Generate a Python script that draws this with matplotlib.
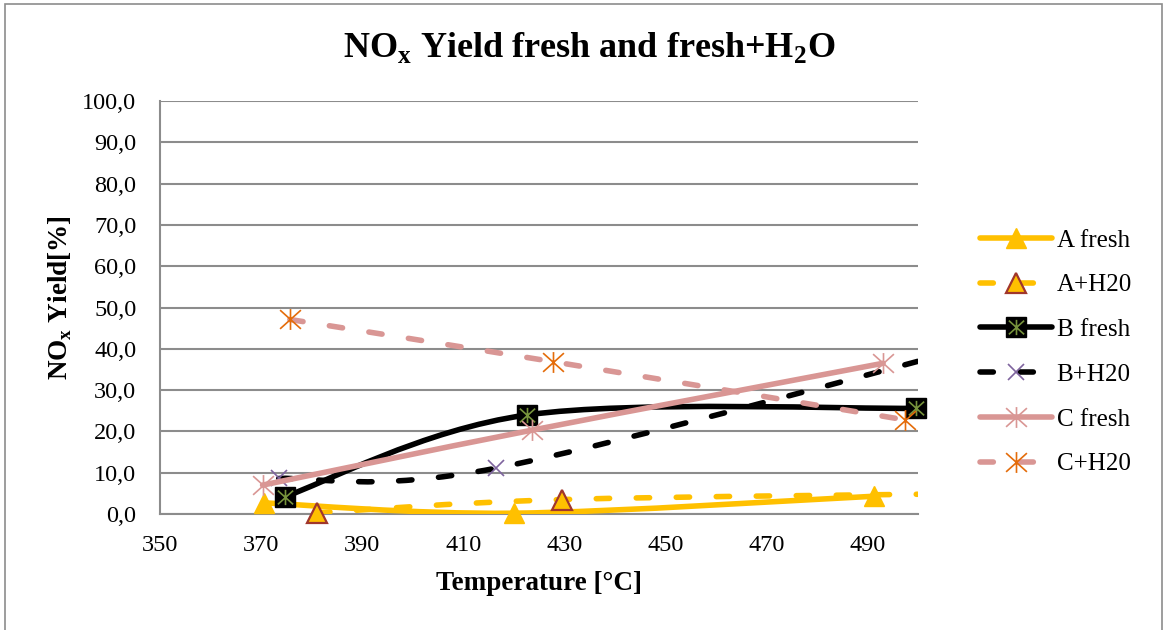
import numpy as np
import matplotlib
matplotlib.use("Agg")
import matplotlib.pyplot as plt
from matplotlib.path import Path
from matplotlib.patches import PathPatch, Rectangle
from matplotlib.lines import Line2D
from matplotlib.legend_handler import HandlerTuple
from matplotlib.ticker import FuncFormatter, MultipleLocator

plt.rcParams['font.family'] = ['Liberation Serif', 'DejaVu Serif']
plt.rcParams['mathtext.fontset'] = 'custom'
plt.rcParams['mathtext.rm'] = 'Liberation Serif'
plt.rcParams['mathtext.bf'] = 'Liberation Serif:bold'

# data (temperature in °C, NOx yield in %)
a_fresh_x = [370.5, 420.0, 491.2]
a_fresh_y = [2.7, 0.2, 4.3]
a_h2o_x = [381.0, 429.5, 515.0]
a_h2o_y = [0.3, 3.5, 5.0]
b_fresh_x = [374.7, 422.7, 499.7]
b_fresh_y = [4.2, 24.0, 25.6]
b_h2o_x = [373.5, 416.5, 520.0]
b_h2o_y = [8.6, 11.1, 43.5]
c_fresh_x = [370.3, 423.6, 493.1]
c_fresh_y = [7.0, 20.3, 36.5]
c_h2o_x = [375.7, 427.7, 497.4]
c_h2o_y = [47.1, 36.9, 22.8]

labels = ['A fresh', 'A+H20', 'B fresh', 'B+H20', 'C fresh', 'C+H20']

XMIN, XMAX = 350, 500

YELLOW = '#FFC000'
PINK = '#D99694'
ORANGE = '#E46C0A'
PURPLE = '#7E649E'
GREEN = '#77933C'
BROWN = '#A0362C'
GRID = '#8C8C8C'

# asterisk-like marker (vertical bar plus an X), as Excel's "star"
STAR = Path([(0, -0.5), (0, 0.5), (-0.5, -0.45), (0.5, 0.45), (-0.5, 0.45), (0.5, -0.45)],
            [Path.MOVETO, Path.LINETO, Path.MOVETO, Path.LINETO, Path.MOVETO, Path.LINETO])


def smooth_path(xs, ys):
    # Excel style smoothed line: cubic bezier through the points
    pts = np.column_stack([xs, ys]).astype(float)
    n = len(pts)
    verts = [pts[0]]
    codes = [Path.MOVETO]
    for i in range(n - 1):
        p0 = pts[max(i - 1, 0)]
        p1 = pts[i]
        p2 = pts[i + 1]
        p3 = pts[min(i + 2, n - 1)]
        verts += [p1 + (p2 - p0) / 6, p2 - (p3 - p1) / 6, p2]
        codes += [Path.CURVE4] * 3
    return Path(verts, codes)


LW = 4.0
DASH = (0, (2.4, 4.8))

fig = plt.figure(figsize=(11.73, 6.30), dpi=100)
ax = fig.add_axes([0.1364, 0.1841, 0.6462, 0.6556])

series = [
    (a_fresh_x, a_fresh_y, YELLOW, '-', dict(marker='^', ms=14, mfc=YELLOW, mec=YELLOW, mew=1)),
    (a_h2o_x, a_h2o_y, YELLOW, DASH, dict(marker='^', ms=14, mfc=YELLOW, mec=BROWN, mew=1.6)),
    (b_fresh_x, b_fresh_y, 'black', '-', dict(marker='s', ms=14, mfc='black', mec='black', mew=1)),
    (b_h2o_x, b_h2o_y, 'black', DASH, dict(marker='x', ms=12, mfc='none', mec=PURPLE, mew=1.2)),
    (c_fresh_x, c_fresh_y, PINK, '-', dict(marker=STAR, ms=15, mfc='none', mec=PINK, mew=1.2)),
    (c_h2o_x, c_h2o_y, PINK, DASH, dict(marker=STAR, ms=15, mfc='none', mec=ORANGE, mew=1.2)),
]

handles = []
for i, (xs, ys, col, ls, mk) in enumerate(series):
    z = 3 + i * 2
    patch = PathPatch(smooth_path(xs, ys), fill=False, edgecolor=col, lw=LW,
                      linestyle=ls, capstyle='round', joinstyle='round', zorder=z)
    ax.add_patch(patch)
    xs_a = np.array(xs)
    ys_a = np.array(ys)
    keep = xs_a <= XMAX
    ax.plot(xs_a[keep], ys_a[keep], ls='none', clip_on=False, zorder=z + 1, **mk)
    h = Line2D([], [], color=col, lw=LW, ls=ls, dash_capstyle='round',
               solid_capstyle='round', **mk)
    if i == 2:
        ax.plot(xs_a[keep], ys_a[keep], ls='none', marker=STAR, ms=11, mec=GREEN,
                mfc='none', mew=1.2, clip_on=False, zorder=z + 1.5)
        h = (h, Line2D([], [], ls='none', marker=STAR, ms=11, mec=GREEN, mfc='none', mew=1.2))
    handles.append(h)

ax.set_xlim(XMIN, XMAX)
ax.set_ylim(0, 100)
ax.set_xticks(np.arange(350, 491, 20))
ax.yaxis.set_major_locator(MultipleLocator(10))
ax.yaxis.set_major_formatter(FuncFormatter(lambda v, p: f"{v:.1f}".replace('.', ',')))
ax.tick_params(axis='x', length=0, labelsize=17.5, pad=15)
ax.tick_params(axis='y', length=0, labelsize=17.5, pad=17)
ax.grid(axis='y', color=GRID, lw=1.5)
ax.set_axisbelow(True)
for s in ['top', 'right']:
    ax.spines[s].set_visible(False)
for s in ['left', 'bottom']:
    ax.spines[s].set_color(GRID)
    ax.spines[s].set_linewidth(1.5)

ax.set_xlabel('Temperature [°C]', fontsize=19.5, fontweight='bold', labelpad=11)
ax.set_ylabel(r'NO$_\mathbf{x}$ Yield[%]', fontsize=19.5, fontweight='bold', labelpad=6)
ax.yaxis.label.set_y(0.525)
fig.text(0.502, 0.925, r'NO$_\mathbf{x}$ Yield fresh and fresh+H$_\mathbf{2}$O',
         ha='center', va='center', fontsize=26, fontweight='bold')

ax.legend(handles, labels, loc='center left', bbox_to_anchor=(0.8165, 0.441),
          bbox_transform=fig.transFigure, frameon=False, fontsize=18,
          handlelength=2.85, handletextpad=0.2, labelspacing=0.89,
          handler_map={tuple: HandlerTuple(ndivide=1, pad=0)})

fig.patches.append(Rectangle((0.004, -0.02), 0.987, 1.014, transform=fig.transFigure,
                             fill=False, edgecolor=GRID, lw=1.2))

fig.savefig('out.png', dpi=100)
